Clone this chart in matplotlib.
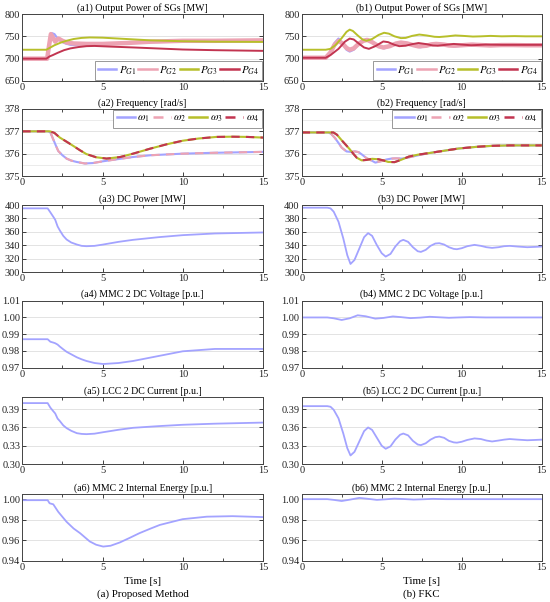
import matplotlib
matplotlib.use("Agg")
import matplotlib.pyplot as plt
from matplotlib.ticker import MultipleLocator

plt.rcParams["font.family"] = ["Liberation Serif", "DejaVu Serif"]
plt.rcParams["mathtext.fontset"] = "stix"

# ================= DATA =================
# (a) proposed method
t_a1_g1 = [0, 1.55, 1.7, 1.85, 2.0, 2.2, 2.45, 2.7, 3.0, 3.3, 4.0, 5.0, 6.5, 8.0, 10.0, 12.0, 15.0]
pg1_a = [700, 700, 735, 757, 755, 745, 738, 734, 731, 730, 731, 733, 735, 737, 738, 739, 740]
t_a1_g2 = [0, 1.55, 1.65, 1.78, 1.9, 2.05, 2.25, 2.5, 2.8, 3.2, 4.0, 5.0, 6.5, 8.0, 10.0, 12.0, 15.0]
pg2_a = [700, 700, 725, 755, 748, 738, 745, 740, 736, 734, 733, 733, 735, 738, 740, 740, 741]
t_a1_g3 = [0, 1.5, 1.7, 2.0, 2.4, 2.75, 3.2, 3.7, 4.2, 5.0, 6.0, 7.0, 8.0, 10.0, 12.0, 15.0]
pg3_a = [720, 720, 724, 730, 736, 740, 744, 746.5, 747.5, 747, 745, 743, 741, 739, 738, 737.5]
t_a1_g4 = [0, 1.5, 1.7, 1.9, 2.2, 2.6, 3.0, 3.5, 4.0, 4.5, 5.5, 7.0, 8.0, 10.0, 12.0, 15.0]
pg4_a = [700, 700, 705, 708, 713, 719, 723, 726, 728, 728.5, 727, 725, 723.5, 720.5, 719, 717.5]

t_a2_w1 = [0, 1.6, 1.75, 1.93, 2.1, 2.24, 2.5, 2.76, 3.05, 3.38, 3.9, 4.4, 5.04, 6.0, 6.9, 8.0, 10.0, 12.0, 15.0]
w1_a = [377, 377, 376.95, 376.64, 376.35, 376.12, 375.93, 375.78, 375.69, 375.63, 375.56, 375.58, 375.66, 375.76, 375.85, 375.93, 376.0, 376.04, 376.08]
w2_a = w1_a
t_a2_w3 = [0, 1.72, 2.0, 2.34, 2.75, 3.17, 3.6, 4.0, 4.6, 5.25, 6.1, 6.9, 7.95, 9.0, 10.0, 11.0, 12.1, 13.1, 14.0, 15.0]
w3_a = [377, 377, 376.93, 376.72, 376.54, 376.35, 376.15, 375.98, 375.84, 375.78, 375.85, 376.0, 376.22, 376.42, 376.58, 376.68, 376.75, 376.76, 376.75, 376.72]
w4_a = w3_a

t_a_dc = [0, 1.58, 1.75, 1.93, 2.05, 2.2, 2.34, 2.55, 2.76, 3.05, 3.4, 3.7, 4.0, 4.5, 5.04, 6.0, 6.9, 8.5, 10.0, 12.0, 15.0]
pdc_a = [395, 395, 389, 382.5, 378, 368, 362, 354, 348.5, 344, 341, 339, 338.5, 339, 341, 345, 348, 352, 355, 357.5, 359]
vdc_a = [0.987, 0.987, 0.9855, 0.985, 0.9846, 0.9838, 0.9826, 0.981, 0.9795, 0.978, 0.9762, 0.975, 0.974, 0.9728, 0.9722, 0.9728, 0.974, 0.977, 0.9798, 0.9812, 0.9812]
idc_a = [0.400, 0.400, 0.3925, 0.3867, 0.383, 0.3745, 0.3705, 0.3635, 0.3589, 0.3545, 0.3506, 0.3494, 0.349, 0.3498, 0.3522, 0.3562, 0.3594, 0.3622, 0.3644, 0.3662, 0.368]
t_a_e = [0, 1.58, 1.7, 1.93, 2.24, 2.76, 3.2, 3.6, 4.2, 4.6, 5.04, 5.5, 6.08, 6.7, 7.3, 8.0, 8.57, 10.0, 11.5, 13.1, 15.0]
e_a = [0.999, 0.999, 0.996, 0.995, 0.9877, 0.978, 0.9715, 0.967, 0.959, 0.9558, 0.954, 0.9548, 0.958, 0.9625, 0.967, 0.9715, 0.975, 0.9806, 0.983, 0.9835, 0.9826]

# (b) FKC
t_b1_g1 = [0, 1.5, 1.8, 2.05, 2.3, 2.55, 2.8, 3.0, 3.25, 3.55, 3.85, 4.1, 4.4, 4.8, 5.15, 5.5, 5.9, 6.25, 6.6, 7.0, 7.4, 7.8, 8.15, 8.5, 8.9, 9.3, 9.6, 10.1, 10.7, 11.2, 11.8, 12.5, 13.2, 14.0, 15.0]
pg1_b = [702, 702, 715, 735, 745, 735, 720, 716, 720, 732, 741, 744, 738, 726, 723, 727, 734, 737, 735, 729, 725.5, 728, 732, 734.5, 732, 728.5, 727.5, 729.5, 733, 731.5, 729, 730.5, 731, 730, 730]
t_b1_g2 = [0, 1.5, 1.8, 2.05, 2.3, 2.55, 2.8, 3.0, 3.25, 3.55, 3.85, 4.1, 4.4, 4.8, 5.1, 5.5, 5.9, 6.2, 6.6, 7.0, 7.3, 7.8, 8.1, 8.4, 8.9, 9.2, 9.5, 10.0, 10.6, 11.2, 11.8, 12.5, 13.2, 14.0, 15.0]
pg2_b = [702, 702, 714, 731, 740, 734, 724, 720, 723, 733, 740, 742, 737, 728, 725, 728, 734, 736, 734, 730, 727.5, 729, 732, 733, 731.5, 729.5, 729, 730, 731.5, 730.5, 729.5, 730.5, 730.5, 730, 730]
t_b1_g3 = [0, 1.5, 1.8, 2.1, 2.5, 2.8, 3.0, 3.2, 3.5, 3.8, 4.05, 4.4, 4.8, 5.15, 5.45, 5.8, 6.2, 6.5, 6.9, 7.35, 7.8, 8.3, 8.6, 9.1, 9.6, 10.1, 10.7, 11.2, 11.8, 12.5, 13.3, 14.0, 15.0]
pg3_b = [720, 720, 722, 730, 746, 760, 765, 762, 752, 743, 740, 744, 753, 758, 756, 750, 746, 746.5, 751, 754, 752, 749, 748.5, 750, 752, 751, 749.5, 750, 751, 750, 750.5, 750, 750]
t_b1_g4 = [0, 1.5, 1.8, 2.3, 2.7, 3.0, 3.25, 3.6, 3.9, 4.2, 4.6, 5.1, 5.4, 5.8, 6.1, 6.5, 6.9, 7.3, 7.8, 8.2, 8.5, 9.0, 9.5, 10.0, 10.6, 11.5, 12.5, 15.0]
pg4_b = [702, 702, 708, 722, 738, 745, 743, 733, 725, 722, 728, 738.5, 737, 731, 728, 729, 732.5, 735, 732.5, 729.5, 729, 731, 733, 731.5, 730, 731.5, 731, 731]

t_b2_w1 = [0, 1.67, 1.85, 2.08, 2.3, 2.5, 2.8, 3.05, 3.33, 3.55, 3.75, 4.05, 4.4, 4.6, 5.0, 5.3, 5.6, 5.9, 6.25, 6.6, 7.1, 7.9, 8.8, 9.8, 11.0, 11.9, 13.0, 15.0]
w1_b = [376.95, 376.95, 376.88, 376.7, 376.48, 376.27, 376.1, 376.08, 376.1, 376.07, 375.97, 375.8, 375.68, 375.6, 375.67, 375.74, 375.78, 375.79, 375.78, 375.82, 375.9, 376.02, 376.12, 376.23, 376.31, 376.35, 376.37, 376.37]
w2_b = w1_b
t_b2_w3 = [0, 1.98, 2.2, 2.5, 2.75, 3.0, 3.22, 3.44, 3.75, 4.05, 4.4, 4.8, 5.1, 5.4, 5.8, 6.2, 6.7, 7.3, 7.9, 8.8, 9.8, 11.0, 11.9, 13.0, 15.0]
w3_b = [376.95, 376.95, 376.85, 376.6, 376.4, 376.2, 376.0, 375.82, 375.7, 375.72, 375.77, 375.75, 375.7, 375.63, 375.62, 375.72, 375.87, 375.96, 376.02, 376.12, 376.23, 376.31, 376.35, 376.37, 376.37]
w4_b = w3_b

t_b_dc = [0, 1.6, 1.8, 2.0, 2.3, 2.6, 2.85, 3.05, 3.3, 3.6, 3.9, 4.15, 4.4, 4.7, 5.0, 5.25, 5.55, 5.85, 6.15, 6.35, 6.65, 6.95, 7.25, 7.45, 7.75, 8.05, 8.35, 8.6, 8.9, 9.2, 9.5, 9.7, 10.0, 10.35, 10.8, 11.2, 11.55, 11.9, 12.3, 12.65, 13.0, 13.5, 14.1, 14.6, 15.0]
pdc_b = [396, 396, 395, 390, 375, 350, 325, 312, 318, 335, 352, 358, 354, 340, 328, 323, 327, 338, 346, 348, 345, 337, 331, 330, 333, 339, 342.5, 343, 341, 337, 334.5, 334, 335.5, 338.5, 340.5, 339, 337, 336, 337, 338.5, 339, 338, 337, 337.5, 338]
idc_b = [0.395, 0.395, 0.394, 0.389, 0.375, 0.350, 0.326, 0.314, 0.320, 0.337, 0.354, 0.360, 0.356, 0.343, 0.330, 0.325, 0.329, 0.340, 0.348, 0.350, 0.347, 0.338, 0.332, 0.331, 0.334, 0.340, 0.344, 0.345, 0.343, 0.338, 0.3355, 0.335, 0.3365, 0.3395, 0.342, 0.341, 0.3385, 0.337, 0.3385, 0.340, 0.341, 0.340, 0.339, 0.3395, 0.340]
t_b_v = [0, 1.6, 2.0, 2.5, 3.0, 3.5, 4.0, 4.6, 5.1, 5.7, 6.2, 6.8, 7.4, 8.0, 8.6, 9.2, 9.8, 10.5, 11.5, 15.0]
vdc_b = [1.000, 1.000, 0.9995, 0.9985, 0.9995, 1.0013, 1.0007, 0.9993, 0.9997, 1.0006, 1.0002, 0.9996, 0.9999, 1.0004, 1.0001, 0.9998, 1.0, 1.0002, 1.0, 1.0]
t_b_e = [0, 1.6, 2.0, 2.5, 3.0, 3.6, 4.1, 4.7, 5.2, 5.8, 6.4, 7.0, 7.6, 8.2, 9.0, 10.0, 15.0]
e_b = [1.000, 1.000, 0.9993, 0.9982, 0.9995, 1.0012, 1.0004, 0.9993, 0.9998, 1.0005, 1.0001, 0.9996, 0.9999, 1.0003, 1.0, 1.0, 1.0]

# ================= STYLE =================
C1 = "#a3a3ff"
C2 = "#eda3b3"
C3 = "#b7bf2a"
C4 = "#c23450"

W, H = 550, 602
col_left = [22.3, 301.7]
col_width = [240.7, 240.0]
row_top = [14, 109, 205, 300.7, 397, 494]
row_h = 67

titles_a = ["(a1) Output Power of SGs [MW]", "(a2) Frequency [rad/s]", "(a3) DC Power [MW]",
            "(a4) MMC 2 DC Voltage [p.u.]", "(a5) LCC 2 DC Current [p.u.]", "(a6) MMC 2 Internal Energy [p.u.]"]
titles_b = [s.replace("(a", "(b") for s in titles_a]

ylims = [(650, 800), (375, 378), (300, 400), (0.97, 1.01), (0.30, 0.41), (0.94, 1.005)]
yticks = [[650, 700, 750, 800], [375, 376, 377, 378], [300, 320, 340, 360, 380, 400],
          [0.97, 0.98, 0.99, 1.00, 1.01], [0.30, 0.33, 0.36, 0.39], [0.94, 0.96, 0.98, 1.00]]
yfmt = ["%d", "%d", "%d", "%.2f", "%.2f", "%.2f"]

fig = plt.figure(figsize=(W / 100, H / 100), dpi=100)


def style_legend(leg):
    leg.get_frame().set_linewidth(0.6)
    leg.get_frame().set_edgecolor("#888888")
    for h in leg.get_lines():
        h.set_linewidth(1.8)


leg_kw = dict(ncol=4, fontsize=7.8, handlelength=1.7, columnspacing=0.25,
              handletextpad=0.2, borderpad=0.3, borderaxespad=0.1,
              fancybox=False, framealpha=1)

axes = {}
for c in range(2):
    for r in range(6):
        ax = fig.add_axes([col_left[c] / W, 1 - (row_top[r] + row_h) / H,
                           col_width[c] / W, row_h / H])
        ax.set_xlim(0, 15)
        ax.set_ylim(*ylims[r])
        ax.set_xticks([0, 5, 10, 15])
        ax.xaxis.set_minor_locator(MultipleLocator(2.5))
        ax.set_yticks(yticks[r])
        ax.set_yticklabels([yfmt[r] % v for v in yticks[r]])
        ax.tick_params(direction="in", top=True, right=True, labelsize=7.5,
                       length=3, width=0.6, pad=1.5, colors="#222222")
        ax.tick_params(which="minor", direction="in", top=True, right=True, length=2, width=0.5)
        ax.grid(True, axis="y", color="#e3e3e3", lw=0.7)
        if r == 1:
            ax.yaxis.set_minor_locator(MultipleLocator(0.5))
            ax.tick_params(which="minor", axis="y", length=0)
            ax.grid(True, axis="y", which="minor", color="#e8e8e8", lw=0.6)
        ax.set_axisbelow(True)
        for s in ax.spines.values():
            s.set_linewidth(0.7)
            s.set_color("#444444")
        ax.set_title((titles_a if c == 0 else titles_b)[r], fontsize=7.1, pad=2.5)
        axes[(c, r)] = ax

# ----- row 1 : SG power -----
for c, data in enumerate([
        [(t_a1_g1, pg1_a), (t_a1_g2, pg2_a), (t_a1_g3, pg3_a), (t_a1_g4, pg4_a)],
        [(t_b1_g1, pg1_b), (t_b1_g2, pg2_b), (t_b1_g3, pg3_b), (t_b1_g4, pg4_b)]]):
    ax = axes[(c, 0)]
    ax.plot(*data[0], color=C1, lw=1.6, label=r"$P_{G1}$")
    ax.plot(*data[1], color=C2, lw=3.2, label=r"$P_{G2}$")
    ax.plot(*data[2], color=C3, lw=1.4, label=r"$P_{G3}$")
    ax.plot(*data[3], color=C4, lw=1.4, label=r"$P_{G4}$")
    style_legend(ax.legend(loc="lower right", **leg_kw))

# ----- row 2 : frequency -----
for c, data in enumerate([
        [(t_a2_w1, w1_a), (t_a2_w1, w2_a), (t_a2_w3, w3_a), (t_a2_w3, w4_a)],
        [(t_b2_w1, w1_b), (t_b2_w1, w2_b), (t_b2_w3, w3_b), (t_b2_w3, w4_b)]]):
    ax = axes[(c, 1)]
    ax.plot(*data[0], color=C1, lw=1.5, label=r"$\omega_1$")
    ax.plot(*data[1], color=C2, lw=1.5, ls=(0, (4, 3)), label=r"$\omega_2$")
    ax.plot(*data[2], color=C3, lw=1.5, label=r"$\omega_3$")
    ax.plot(*data[3], color=C4, lw=1.5, ls=(0, (4, 3)), label=r"$\omega_4$")
    style_legend(ax.legend(loc="upper right", **leg_kw))

# ----- rows 3-6 : single curves -----
axes[(0, 2)].plot(t_a_dc, pdc_a, color=C1, lw=1.3)
axes[(0, 3)].plot(t_a_dc, vdc_a, color=C1, lw=1.3)
axes[(0, 4)].plot(t_a_dc, idc_a, color=C1, lw=1.3)
axes[(0, 5)].plot(t_a_e, e_a, color=C1, lw=1.3)
axes[(1, 2)].plot(t_b_dc, pdc_b, color=C1, lw=1.3)
axes[(1, 3)].plot(t_b_v, vdc_b, color=C1, lw=1.3)
axes[(1, 4)].plot(t_b_dc, idc_b, color=C1, lw=1.3)
axes[(1, 5)].plot(t_b_e, e_b, color=C1, lw=1.3)

# ================= LABELS =================
for c, name in enumerate(["(a) Proposed Method", "(b) FKC"]):
    xc = (col_left[c] + col_width[c] / 2) / W
    fig.text(xc, 1 - 582 / H, "Time [s]", ha="center", va="center", fontsize=7.8)
    fig.text(xc, 1 - 594 / H, name, ha="center", va="center", fontsize=7.8)

fig.savefig("out.png", dpi=100)
